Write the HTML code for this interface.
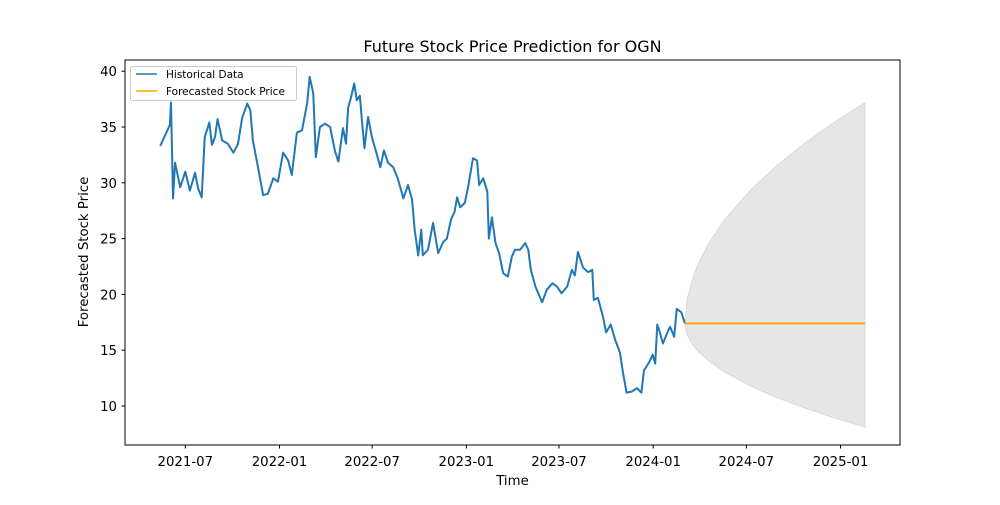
<!DOCTYPE html>
<html><head><meta charset="utf-8"><style>
body{margin:0;background:#fff;}
svg text{font-family:"DejaVu Sans","Liberation Sans",sans-serif;fill:#000;}
</style></head><body>
<svg id="chart" width="1000" height="500" viewBox="0 0 1000 500" xmlns="http://www.w3.org/2000/svg">
<rect width="1000" height="500" fill="#fff"/>
<text x="512.5" y="52" font-size="16" text-anchor="middle">Future Stock Price Prediction for OGN</text>
<g id="plot"></g>
<rect x="125" y="60" width="775" height="385" fill="none" stroke="#000" stroke-width="1"/>
<g id="xticks"></g><g id="yticks"></g>
<text x="512.5" y="485" font-size="13.3" text-anchor="middle">Time</text>
<text x="0" y="0" font-size="13.3" text-anchor="middle" transform="translate(88,252) rotate(-90)">Forecasted Stock Price</text>
<g>
<rect x="130.5" y="66.5" width="166" height="34" rx="2" fill="#fff" fill-opacity="0.8" stroke="#ccc"/>
<line x1="136" y1="74" x2="157" y2="74" stroke="#1f77b4" stroke-width="1.5"/>
<text x="166" y="78" font-size="10.5">Historical Data</text>
<line x1="136" y1="91" x2="157" y2="91" stroke="orange" stroke-width="1.5"/>
<text x="166" y="95" font-size="10.5">Forecasted Stock Price</text>
</g>
</svg>
<script>
const histDays=[-19,0,2,6,10,20,30,39,49,55,62,68,77,82,88,93,102,113,124,133,141,151,157,162,172,182,191,202,211,221,231,238,248,258,268,273,280,285,293,303,313,322,329,338,344,348,354,360,365,371,375,380,387,395,402,411,418,426,436,445,456,465,473,478,485,491,494,504,514,524,534,541,549,556,561,567,576,582,592,600,604,612,620,623,629,636,643,651,660,668,674,684,694,700,705,714,727,736,747,756,765,776,785,791,797,807,817,825,828,836,846,852,861,870,879,885,892,903,912,921,926,936,943,948,952,957,963,972,977,985,990,999,1006];
const histVals=[33.3,35.2,37.2,28.6,31.8,29.6,31,29.3,30.9,29.5,28.7,34.1,35.4,33.4,34.1,35.7,33.8,33.5,32.7,33.5,35.8,37.1,36.5,33.8,31.4,28.9,29,30.4,30.1,32.7,32,30.7,34.5,34.7,37.1,39.5,38,32.3,35,35.3,35,32.9,31.9,34.9,33.5,36.7,37.7,38.9,37.4,37.8,35.6,33.1,35.9,34,32.9,31.4,32.9,31.8,31.4,30.4,28.6,29.8,28.5,25.8,23.5,25.8,23.5,24,26.4,23.7,24.7,25,26.7,27.4,28.7,27.8,28.2,29.5,32.2,32,29.8,30.4,29.2,25,26.9,24.6,23.7,21.9,21.6,23.4,24,24,24.6,24,22.2,20.7,19.3,20.4,21,20.7,20.1,20.7,22.2,21.7,23.8,22.4,22,22.2,19.5,19.7,18,16.6,17.3,15.9,14.8,13,11.2,11.3,11.6,11.2,13.2,13.9,14.6,13.8,17.3,16.6,15.6,16.6,17.1,16.2,18.7,18.4,17.4];
const fcDays=[1006,1010,1021,1031,1052,1083,1135,1187,1239,1291,1358];
const fcVals=[17.4,17.4,17.4,17.4,17.4,17.4,17.4,17.4,17.4,17.4,17.4];
const fcUpper=[17.4,19.56,21.42,22.67,24.55,26.67,29.4,31.61,33.52,35.22,37.2];
const fcLower=[17.4,16.39,15.51,14.93,14.04,13.05,11.76,10.72,9.83,9.03,8.1];
const xTickDays=[30,214,395,579,760,944,1126,1310];
const xTickLabels=["2021-07","2022-01","2022-07","2023-01","2023-07","2024-01","2024-07","2025-01"];
const yTicks=[10,15,20,25,30,35,40];
const NS="http://www.w3.org/2000/svg";
function xs(d){return 185.3+(d-30)*0.5119;}
function ys(v){return 406-(v-10)*11.16;}
function mk(tag,attrs,parent){const e=document.createElementNS(NS,tag);for(const k in attrs)e.setAttribute(k,attrs[k]);parent.appendChild(e);return e;}
const plot=document.getElementById('plot');
let bp=fcDays.map((d,i)=>xs(d)+','+ys(fcUpper[i]));
for(let i=fcDays.length-1;i>=0;i--)bp.push(xs(fcDays[i])+','+ys(fcLower[i]));
const band=mk('polygon',{points:bp.join(' '),fill:'#808080','fill-opacity':0.2,stroke:'#808080','stroke-opacity':0.2},plot);


const hl=mk('polyline',{points:histDays.map((d,i)=>xs(d)+','+ys(histVals[i])).join(' '),fill:'none',stroke:'#1f77b4','stroke-width':2,'stroke-linejoin':'round'},plot);


const fl=mk('polyline',{points:fcDays.map((d,i)=>xs(d)+','+ys(fcVals[i])).join(' '),fill:'none',stroke:'orange','stroke-width':1.8},plot);


const xg=document.getElementById('xticks');
xTickDays.forEach((d,i)=>{const x=xs(d);
const t=mk('line',{x1:x,x2:x,y1:445,y2:448.5,stroke:'#000'},xg);


const l=mk('text',{x:x,y:466,'font-size':13.3,'text-anchor':'middle'},xg);l.textContent=xTickLabels[i];

});
const yg=document.getElementById('yticks');
yTicks.forEach(v=>{const y=ys(v);
const t=mk('line',{x1:121.5,x2:125,y1:y,y2:y,stroke:'#000'},yg);


const l=mk('text',{x:117,y:y+5,'font-size':13.3,'text-anchor':'end'},yg);l.textContent=v;

});
</script>
</body></html>
